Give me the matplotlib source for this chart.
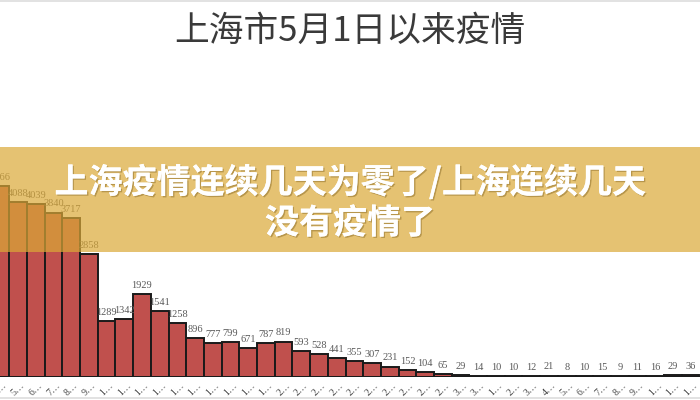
import matplotlib
matplotlib.use("Agg")
import matplotlib.pyplot as plt
from matplotlib.patches import Rectangle
from matplotlib.lines import Line2D
import matplotlib.patheffects as pe

plt.rcParams['font.family'] = ['Noto Sans CJK SC', 'DejaVu Sans']

# ---- data ----
days = [4, 5, 6, 7, 8, 9, 10, 11, 12, 13, 14, 15, 16, 17, 18, 19, 20, 21, 22, 23,
        24, 25, 26, 27, 28, 29, 30, 31, 1, 2, 3, 4, 5, 6, 7, 8, 9, 10, 11, 12]
cases = [4466, 4088, 4039, 3840, 3717, 2858, 1289, 1342, 1929, 1541, 1258, 896, 777,
         799, 671, 787, 819, 593, 528, 441, 355, 307, 231, 152, 104, 65, 29, 14,
         10, 10, 12, 21, 8, 10, 15, 9, 11, 16, 29, 36]
tick_labels = [str(d)[0] + '…' for d in days]
title = '上海市5月1日以来疫情'
banner_line1 = '上海疫情连续几天为零了/上海连续几天'
banner_line2 = '没有疫情了'

W, H = 700, 400
fig = plt.figure(figsize=(7, 4), dpi=100)
fig.patch.set_facecolor('white')

base_px = 376.5
ax = fig.add_axes([0, (H - base_px) / H, 1, base_px / H])
x = list(range(len(cases)))
bars = ax.bar(x, cases, width=1.0, color='#C0504D', edgecolor='#1a1a1a', linewidth=1.4, zorder=2)
ax.set_xlim(-0.023, 39.53)
ax.set_ylim(0, base_px / 0.0427)
for s in ax.spines.values():
    s.set_visible(False)
ax.axhline(0, color='#1a1a1a', lw=1.4, zorder=3)
ax.set_yticks([])
ax.set_xticks(x)
ax.set_xticklabels(tick_labels, rotation=45, fontsize=7, family=['Liberation Serif', 'DejaVu Serif'],
                   color='#404040', ha='center', va='top')
ax.tick_params(axis='x', length=0, pad=3)
ax.set_facecolor('white')

for xi, v in zip(x, cases):
    ax.annotate(str(v), (xi, v), xytext=(0, 3), textcoords='offset points',
                ha='center', va='bottom', fontsize=7.5, color='#595959',
                family=['Liberation Serif', 'DejaVu Serif'], zorder=4)

# title
fig.text(0.5, 1 - 31 / H, title, ha='center', va='center', fontsize=25,
         color='#3a3a3a', fontweight='light')

# frame lines at top/bottom of screenshot
fig.add_artist(Line2D([0, 1], [1 - 1 / H, 1 - 1 / H], color='#dddddd', lw=1.2, transform=fig.transFigure))
fig.add_artist(Line2D([0, 1], [2 / H, 2 / H], color='#dddddd', lw=1.2, transform=fig.transFigure))

# banner
top_px, bot_px = 147, 252
fig.add_artist(Rectangle((0, (H - bot_px) / H), 1, (bot_px - top_px) / H,
                         transform=fig.transFigure, facecolor=(219 / 255, 169 / 255, 55 / 255),
                         alpha=0.7, edgecolor='none', zorder=10))
shadow = [pe.withSimplePatchShadow(offset=(1, -1), shadow_rgbFace=(0.5, 0.38, 0.12), alpha=0.45), pe.Normal()]
t1 = fig.text(0.5, 1 - 182 / H, banner_line1, ha='center', va='center', fontsize=24.5,
              color='white', fontweight='heavy', zorder=11, path_effects=shadow)
t2 = fig.text(0.5, 1 - 223 / H, banner_line2, ha='center', va='center', fontsize=24.5,
              color='white', fontweight='heavy', zorder=11, path_effects=shadow)

fig.savefig('out.png', dpi=100)
